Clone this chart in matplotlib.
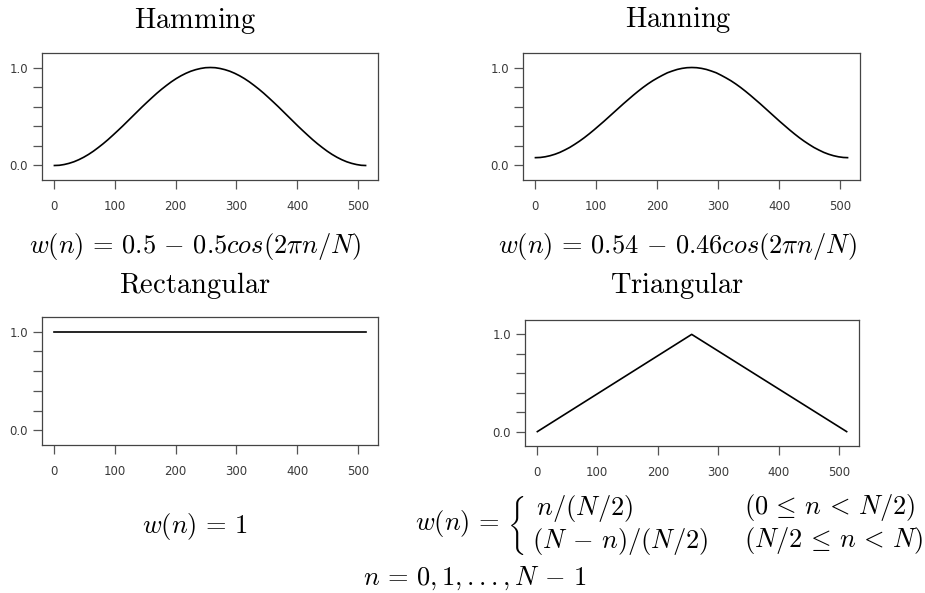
import matplotlib
matplotlib.use("Agg")
import matplotlib.pyplot as plt

plt.rcParams['mathtext.fontset'] = 'cm'

# sample index n (every 8 samples of a 512-point window)
sample_n = [1, 9, 17, 25, 33, 41, 49, 57, 65, 73, 81, 89, 97, 105, 113, 121, 129, 137, 145,
            153, 161, 169, 177, 185, 193, 201, 209, 217, 225, 233, 241, 249, 257, 265, 273,
            281, 289, 297, 305, 313, 321, 329, 337, 345, 353, 361, 369, 377, 385, 393, 401,
            409, 417, 425, 433, 441, 449, 457, 465, 473, 481, 489, 497, 505, 512]
hamming_w = [0.000, 0.002, 0.010, 0.022, 0.038, 0.059, 0.084, 0.113, 0.146, 0.183, 0.222,
             0.264, 0.309, 0.355, 0.402, 0.451, 0.500, 0.549, 0.598, 0.645, 0.691, 0.736,
             0.778, 0.817, 0.854, 0.887, 0.916, 0.941, 0.962, 0.978, 0.990, 0.998, 1.000,
             0.998, 0.990, 0.978, 0.962, 0.941, 0.916, 0.887, 0.854, 0.817, 0.778, 0.736,
             0.691, 0.645, 0.598, 0.549, 0.500, 0.451, 0.402, 0.355, 0.309, 0.264, 0.222,
             0.183, 0.146, 0.113, 0.084, 0.059, 0.038, 0.022, 0.010, 0.002, 0.000]
hanning_w = [0.080, 0.082, 0.089, 0.100, 0.115, 0.134, 0.158, 0.184, 0.215, 0.248, 0.284,
             0.323, 0.364, 0.407, 0.450, 0.495, 0.540, 0.585, 0.630, 0.673, 0.716, 0.757,
             0.796, 0.832, 0.865, 0.894, 0.921, 0.946, 0.964, 0.980, 0.991, 0.998, 1.000,
             0.998, 0.991, 0.980, 0.964, 0.946, 0.921, 0.894, 0.865, 0.832, 0.796, 0.757,
             0.716, 0.673, 0.630, 0.585, 0.540, 0.495, 0.450, 0.407, 0.364, 0.323, 0.284,
             0.248, 0.215, 0.184, 0.158, 0.134, 0.115, 0.100, 0.089, 0.082, 0.080]
rect_n = [1, 512]
rect_w = [1.0, 1.0]
tri_n = [1, 256, 512]
tri_w = [0.0, 1.0, 0.0]

x_ticks = [0, 100, 200, 300, 400, 500]
y_ticks = [0.0, 0.2, 0.4, 0.6, 0.8, 1.0]
y_labels = ['0.0', '', '', '', '', '1.0']

W, H = 925, 593
fig = plt.figure(figsize=(W / 100, H / 100), dpi=100)


def px_axes(x0, y0, x1, y1):
    return fig.add_axes([x0 / W, 1 - y1 / H, (x1 - x0) / W, (y1 - y0) / H])


def style(ax):
    ax.set_xlim(-19.4, 532.4)
    ax.set_ylim(-0.148, 1.148)
    ax.set_xticks(x_ticks)
    ax.set_yticks(y_ticks)
    ax.set_yticklabels(y_labels)
    for s in ax.spines.values():
        s.set_color('#444444')
        s.set_linewidth(0.9)
    ax.tick_params(axis='both', direction='out', length=6.5, width=0.9, color='#555555',
                   labelsize=8.5, labelcolor='#3a3a3a')
    ax.tick_params(axis='x', pad=8)
    ax.tick_params(axis='y', pad=3.5)


panels = [
    ((42, 53, 378, 180), sample_n, hamming_w),
    ((523, 53, 860, 180), sample_n, hanning_w),
    ((42, 317, 378, 445), rect_n, rect_w),
    ((525, 320, 859, 446), tri_n, tri_w),
]
for box, xs, ys in panels:
    ax = px_axes(*box)
    ax.plot(xs, ys, color='black', lw=1.2)
    style(ax)


def put(x, y, s, size, ha='center', va='baseline'):
    fig.text(x / W, 1 - y / H, s, fontsize=size, ha=ha, va=va)


put(195, 28, r'$\mathrm{Hamming}$', 20.5)
put(678, 27, r'$\mathrm{Hanning}$', 20.5)
put(195, 253, r'$w(n)\,=\,0.5\,-\,0.5cos(2\pi n/N)$', 19)
put(677, 253, r'$w(n)\,=\,0.54\,-\,0.46cos(2\pi n/N)$', 19)
put(195, 293, r'$\mathrm{Rectangular}$', 20.5)
put(677, 293, r'$\mathrm{Triangular}$', 20.5)
put(195, 533, r'$w(n)\,=\,1$', 19)

# piecewise triangular definition: brace sized by a two-row stack
put(415, 526,
    r'$w(n)\,=\,\left\{\;\genfrac{}{}{0}{0}{n/(N/2)\hspace{3.1}}{(N\,-\,n)/(N/2)}\right.$',
    19, ha='left', va='center')
put(744, 514, r'$(0\,\leq\,n\,<\,N/2)$', 19, ha='left')
put(744, 547, r'$(N/2\,\leq\,n\,<\,N)$', 19, ha='left')
put(475, 585, r'$n\,=\,0,1,{.}{.}{.},N\,-\,1$', 19)

fig.savefig('out.png', dpi=100)
